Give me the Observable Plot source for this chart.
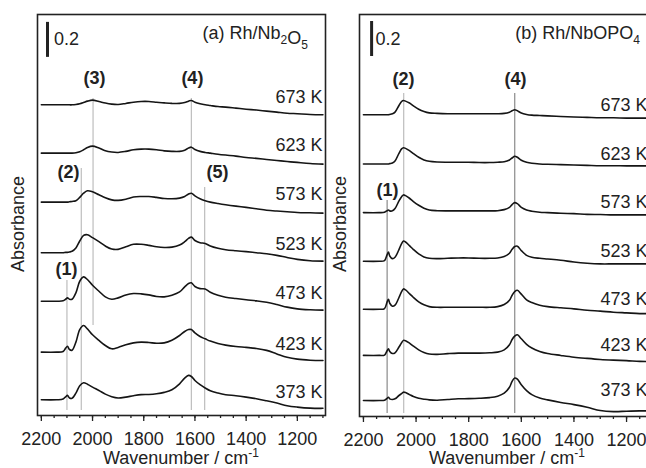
<!DOCTYPE html>
<html><head><meta charset="utf-8">
<script src="https://cdn.jsdelivr.net/npm/d3@7"></script>
<script src="https://cdn.jsdelivr.net/npm/@observablehq/plot@0.6"></script>
<style>
html,body{margin:0;padding:0;background:#fff;overflow:hidden;}
#wrap{position:relative;width:646px;height:468px;overflow:hidden;background:#fff;}
#pa{position:absolute;left:0;top:0;width:330px;height:468px;}
#pb{position:absolute;left:330px;top:0;width:330px;height:468px;}
#wrap svg{max-width:none !important;display:block;}
</style></head><body><div id="wrap"><div id="pa"></div><div id="pb"></div></div>
<script>
// Temperatures (top to bottom)
const temps = ["673 K", "623 K", "573 K", "523 K", "473 K", "423 K", "373 K"];

// ---------- Panel (a) Rh/Nb2O5 ----------
const wavenumA = [2200, 2140, 2115, 2105, 2098, 2090, 2080, 2065, 2050, 2035, 2020, 2000, 1975, 1950, 1925, 1900, 1870, 1840, 1810, 1780, 1750, 1720, 1690, 1660, 1640, 1625, 1614, 1600, 1580, 1560, 1540, 1510, 1480, 1440, 1400, 1360, 1320, 1280, 1240, 1200, 1150, 1100];
// stacking offsets (mAbs)
const offsetA = [1775, 1499, 1219, 930, 653, 362, 90];
// absorbance relative to offset (mAbs)
const a673 = [0,0,0,0,0,0,0,2,6,13,21,27,19,10,4,2,8,15,19,19,15,11,8,8,13,21,25,15,6,0,-4,-10,-13,-19,-25,-30,-36,-42,-48,-51,-55,-57];
const a623 = [0,0,0,0,0,0,0,2,8,19,32,40,29,13,6,4,10,19,23,23,19,13,10,10,17,29,34,21,10,4,0,-6,-11,-17,-25,-30,-36,-42,-48,-53,-59,-63];
const a573 = [0,0,0,0,0,2,4,8,27,51,65,59,42,25,13,10,17,29,32,32,27,21,19,23,32,46,51,36,19,8,0,-8,-15,-23,-30,-38,-46,-51,-55,-59,-61,-63];
const a523 = [0,0,0,2,2,4,8,27,67,99,103,86,63,38,21,19,34,48,48,42,34,30,32,44,63,82,89,70,57,53,38,25,17,11,6,0,-6,-15,-27,-38,-46,-48];
const a473 = [0,0,2,11,19,11,11,48,114,139,124,91,57,25,11,19,36,44,42,36,27,25,34,53,82,101,105,84,72,70,51,34,23,15,8,2,-6,-19,-34,-44,-49,-51];
const a423 = [0,0,4,23,34,15,11,57,129,152,133,99,67,38,19,27,42,53,57,55,51,53,68,95,118,129,129,110,89,76,63,49,40,32,27,21,10,-10,-29,-40,-46,-48];
const a373 = [0,0,4,17,25,10,8,38,80,97,89,72,53,32,17,10,15,23,29,30,34,42,57,91,124,139,133,110,86,67,51,38,29,23,15,6,-6,-19,-34,-42,-48,-49];
const specA = [a673, a623, a573, a523, a473, a423, a373];
// band reference lines
const bandA = ["(1)", "(2)", "(3)", "(4)", "(5)"];
const bandAX = [2100, 2044, 1998, 1614, 1562];
const bandAY1 = [29, 29, 514, 29, 29];
const bandAY2 = [771, 1411, 1811, 1811, 1303];
const bandALabelX = [2102, 2094, 1992, 1610, 1512];
const bandALabelY = [834, 1389, 1926, 1926, 1389];

// ---------- Panel (b) Rh/NbOPO4 ----------
const wavenumB = [2200, 2140, 2120, 2110, 2105, 2100, 2090, 2080, 2065, 2055, 2048, 2040, 2025, 2010, 1990, 1970, 1950, 1920, 1880, 1840, 1800, 1760, 1720, 1690, 1665, 1645, 1635, 1625, 1615, 1600, 1580, 1560, 1530, 1500, 1450, 1400, 1350, 1300, 1250, 1200, 1150, 1100];
const offsetB = [1724, 1443, 1165, 887, 613, 349, 91];
const b673 = [0,0,0,0,0,2,6,15,53,76,82,78,67,51,32,19,11,8,6,6,6,6,6,6,8,15,23,29,23,10,2,-2,-4,-6,-10,-13,-15,-17,-17,-19,-19,-19];
const b623 = [0,0,0,0,0,2,6,17,61,86,93,89,76,59,38,23,15,11,10,10,10,8,8,10,13,23,34,44,38,21,10,4,0,-2,-4,-6,-8,-10,-10,-11,-11,-11];
const b573 = [0,0,2,11,15,10,10,23,67,91,101,97,82,63,42,25,15,11,10,10,10,10,10,11,17,30,46,57,51,30,15,8,2,0,-4,-6,-10,-11,-13,-13,-13,-13];
const b523 = [0,0,4,38,53,30,15,23,67,101,116,110,89,67,42,25,17,15,17,19,19,17,17,19,27,46,68,84,86,61,34,23,17,13,6,-4,-11,-15,-15,-15,-15,-15];
const b473 = [0,0,4,42,57,34,17,23,67,101,116,110,89,67,42,25,15,11,11,11,11,11,11,15,27,51,80,101,108,86,53,38,23,15,8,2,-6,-11,-17,-21,-25,-25];
const b423 = [0,0,2,27,38,23,11,15,48,72,86,84,70,53,32,17,8,6,10,13,13,13,15,19,32,61,91,110,118,95,63,42,23,11,0,-10,-17,-23,-27,-30,-34,-36];
const b373 = [0,0,2,13,19,10,6,10,29,40,48,46,34,23,13,8,4,2,6,10,11,13,17,25,42,76,110,129,122,91,57,34,15,4,-11,-23,-38,-57,-63,-61,-59,-59];
const specB = [b673, b623, b573, b523, b473, b423, b373];
const bandB = ["(1)", "(2)", "(4)"];
const bandBX = [2110, 2047, 1625];
const bandBY1 = [17, 17, 17];
const bandBY2 = [1234, 1846, 1846];
const bandBLabelX = [2109, 2048, 1622];
const bandBLabelY = [1291, 1926, 1926];

// x axis ticks
const majorTicks = [2200, 2000, 1800, 1600, 1400, 1200];
const minorTicks = d3.range(2200, 1099, -50);

const FONT = "'Liberation Sans', Arial, Helvetica, sans-serif";

function panel(cfg) {
  const rows = [];
  temps.forEach((t, i) => cfg.wn.forEach((w, j) => rows.push({t, w, a: cfg.offset[i] + cfg.spec[i][j]})));
  const labels = temps.map((t, i) => ({t, y: cfg.offset[i]}));
  const bands = cfg.band.map((b, i) => ({b, x: cfg.bx[i], y1: cfg.by1[i], y2: cfg.by2[i], lx: cfg.lx[i], ly: cfg.ly[i], i}));
  const plot = Plot.plot({
    width: 330, height: 468,
    marginLeft: cfg.ml, marginRight: cfg.mr, marginTop: 14, marginBottom: cfg.mb,
    style: {fontFamily: FONT, fontSize: "18px", color: "#222", background: "transparent", overflow: "visible", maxWidth: "none"},
    x: {domain: [2215, 1090], axis: null},
    y: {domain: [0, cfg.ymax], axis: null},
    marks: [
      Plot.ruleX(bands, {x: "x", y1: "y1", y2: "y2", stroke: d => cfg.bandColor(d.i), strokeWidth: 1.2}),
      Plot.line(rows, {x: "w", y: "a", z: "t", stroke: "#151515", strokeWidth: 1.6, curve: "catmull-rom"}),
      Plot.text(labels, {y: "y", text: "t", frameAnchor: "right", textAnchor: "end", dx: cfg.ldx, dy: cfg.ldy, fontSize: 18, fill: "#222"}),
      Plot.text(bands, {x: "lx", y: "ly", text: "b", fontWeight: "bold", fontSize: 18, fill: "#222", lineAnchor: "middle"}),
      Plot.ruleX([cfg.bar], {x: "x", y1: "y1", y2: "y2", stroke: "#222", strokeWidth: 3}),
      Plot.text([cfg.bar], {x: "tx", y: "ty", text: () => "0.2", textAnchor: "start", lineAnchor: "middle", fontSize: 18, fill: "#222"}),
      Plot.axisX({ticks: minorTicks, tickSize: 3, tickFormat: () => "", label: null, stroke: "#222", strokeWidth: 1.3}),
      Plot.axisX({ticks: majorTicks, tickSize: 6, tickPadding: 11, tickFormat: d => String(d), label: null, fontSize: 18, fill: "#222", stroke: "#222", strokeWidth: 1.3}),
      Plot.frame({stroke: "#222", strokeWidth: 1.6})
    ]
  });
  const svg = d3.select(plot);
  // y label
  svg.append("text").attr("transform", `translate(${cfg.absX},224) rotate(-90)`)
    .attr("text-anchor", "middle").attr("dy", "0.35em")
    .attr("font-family", FONT).attr("font-size", 18).attr("fill", "#222").text("Absorbance");
  // x label
  const xl = svg.append("text").attr("x", (cfg.ml + 330 - cfg.mr) / 2).attr("y", 464)
    .attr("text-anchor", "middle").attr("font-family", FONT).attr("font-size", 18).attr("fill", "#222");
  xl.append("tspan").text("Wavenumber / cm");
  xl.append("tspan").attr("font-size", 12).attr("dy", -7).text("-1");
  // title
  const tt = svg.append("text").attr("x", cfg.titleX).attr("y", 39).attr("text-anchor", "end")
    .attr("font-family", FONT).attr("font-size", 18).attr("fill", "#222");
  cfg.title.forEach(([s, sub]) => {
    tt.append("tspan").text(s);
    if (sub) tt.append("tspan").attr("font-size", 12).attr("dy", 5).text(sub);
    if (sub) tt.append("tspan").attr("dy", -5).text("");
  });
  return plot;
}

document.getElementById("pa").appendChild(panel({
  wn: wavenumA, offset: offsetA, spec: specA,
  band: bandA, bx: bandAX, by1: bandAY1, by2: bandAY2, lx: bandALabelX, ly: bandALabelY,
  bandColor: () => "#bdbdbd",
  ml: 37, mr: 5, mb: 53, ymax: 2291, ldx: -3, ldy: -8,
  bar: {x: 2176, y1: 2046, y2: 2246, tx: 2151, ty: 2149},
  absX: 18, titleX: 308,
  title: [["(a) Rh/Nb", "2"], ["O", "5"]]
}));
document.getElementById("pb").appendChild(panel({
  wn: wavenumB, offset: offsetB, spec: specB,
  band: bandB, bx: bandBX, by1: bandBY1, by2: bandBY2, lx: bandBLabelX, ly: bandBLabelY,
  bandColor: i => i === 1 ? "#bdbdbd" : "#8a8a8a",
  ml: 29, mr: 5, mb: 52, ymax: 2297, ldx: -8, ldy: -10,
  bar: {x: 2169, y1: 2057, y2: 2257, tx: 2154, ty: 2154},
  absX: 10, titleX: 310,
  title: [["(b) Rh/NbOPO", "4"]]
}));
</script>
</body></html>
